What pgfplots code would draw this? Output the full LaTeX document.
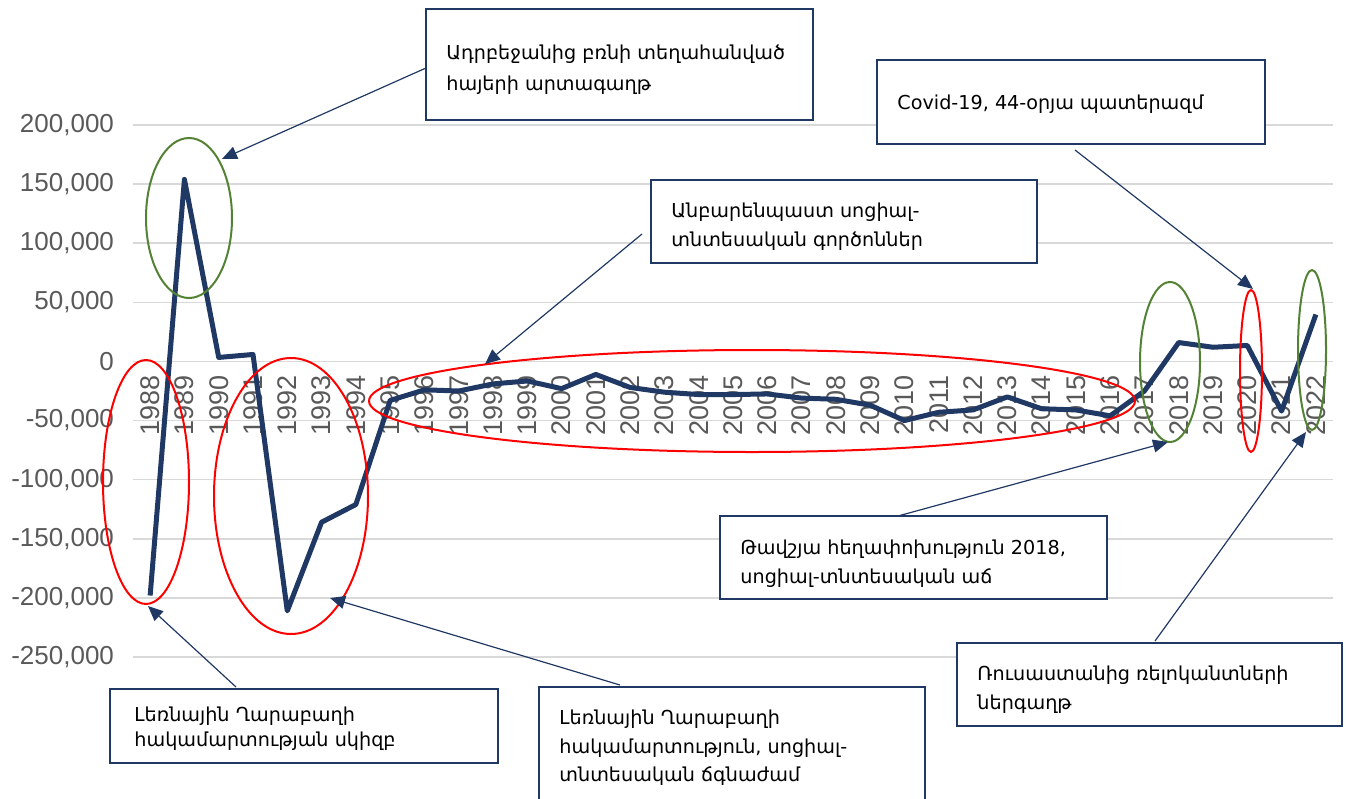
\documentclass[border=0pt]{standalone}
\usepackage{fontspec}
\setmainfont{Liberation Sans}
\newfontfamily\arm{DejaVu Sans}
\usepackage{pgfplots}
\pgfplotsset{compat=1.18}
\usetikzlibrary{arrows.meta}

\definecolor{navy}{HTML}{203864}
\definecolor{tickgray}{HTML}{595959}
\definecolor{gridgray}{HTML}{D9D9D9}
\definecolor{ellgreen}{HTML}{548235}
\definecolor{ellred}{HTML}{FF0000}

\begin{document}
\begin{tikzpicture}
\useasboundingbox (0,0) rectangle (674.5pt,-399pt);
\begin{axis}[
  at={(66.5pt,-328.5pt)}, anchor=south west,
  scale only axis, width=600pt, height=266pt,
  xmin=-0.5, xmax=34.5, ymin=-250000, ymax=200000,
  axis x line=middle, axis y line=left,
  axis line style={draw=none},
  ytick={-250000,-200000,...,200000},
  xtick={0,...,34},
  xticklabels={1988,1989,1990,1991,1992,1993,1994,1995,1996,1997,1998,1999,2000,2001,2002,2003,2004,2005,2006,2007,2008,2009,2010,2011,2012,2013,2014,2015,2016,2017,2018,2019,2020,2021,2022},
  ymajorgrids, grid style={gridgray, line width=0.75pt},
  major tick length=0pt,
  tick label style={color=tickgray, font=\fontsize{13}{15}\selectfont},
  xticklabel style={yshift=-7pt, rotate=90, anchor=east, inner sep=0pt, font=\fontsize{13.5}{15}\selectfont},
  yticklabel style={/pgf/number format/fixed, /pgf/number format/1000 sep={,}, /pgf/number format/assume math mode=true, anchor=east, xshift=-6pt},
  scaled y ticks=false,
  clip=false,
]
\addplot[navy, line width=2.5pt, line join=round] coordinates {
(0,-198000) (1,154000) (2,3400) (3,5900) (4,-211000) (5,-136000) (6,-121000)
(7,-33000) (8,-24000) (9,-25000) (10,-19000) (11,-16500) (12,-23000) (13,-11000)
(14,-22000) (15,-26000) (16,-28000) (17,-28000) (18,-27500) (19,-31000) (20,-32000)
(21,-37000) (22,-50000) (23,-43000) (24,-41000) (25,-30000) (26,-40000) (27,-41000)
(28,-46000) (29,-25000) (30,16000) (31,12000) (32,13500) (33,-42000) (34,39700)
};
\end{axis}
\begin{scope}[x=0.5pt,y=-0.5pt]
  % ellipses
  \draw[ellgreen, line width=1pt] (189,218) ellipse [x radius=43, y radius=80];
  \draw[ellred, line width=1pt] (146,482) ellipse [x radius=43, y radius=122];
  \draw[ellred, line width=1pt] (291,496) ellipse [x radius=77, y radius=138];
  \draw[ellred, line width=1pt] (752,401) ellipse [x radius=383, y radius=51];
  \draw[ellgreen, line width=1pt] (1170,362) ellipse [x radius=30, y radius=80];
  \draw[ellred, line width=1pt] (1251,371) ellipse [x radius=11, y radius=81];
  \draw[ellgreen, line width=1pt] (1312,350) ellipse [x radius=14, y radius=80];
  % arrows
  \tikzset{arr/.style={navy, line width=0.6pt, -{Triangle[length=7.5pt,width=6.5pt]}}}
  \draw[arr] (426,68) -- (222,159);
  \draw[arr] (1075,150) -- (1253,289);
  \draw[arr] (642,234) -- (485,364);
  \draw[arr] (1155,641) -- (1306,432);
  \draw[arr] (898,516) -- (1168,442);
  \draw[arr] (236,687) -- (148,606);
  \draw[arr] (620,685) -- (330,598);
  % boxes
  \tikzset{bx/.style={draw=navy, line width=1pt, fill=white}}
  \tikzset{tx/.style={anchor=mid west, inner sep=0pt, font=\arm\fontsize{9.6}{12}\selectfont}}
  \draw[bx] (426,9) rectangle (813,120);
  \node[tx] at (446,54) {Ադրբեջանից բռնի տեղահանված};
  \node[tx] at (446,85) {հայերի արտագաղթ};
  \draw[bx] (877,60) rectangle (1265,144);
  \node[tx] at (897,104) {Covid-19, 44-օրյա պատերազմ};
  \draw[bx] (651,180) rectangle (1037,263);
  \node[tx] at (671,212) {Անբարենպաստ սոցիալ-};
  \node[tx] at (671,241) {տնտեսական գործոններ};
  \draw[bx] (720,516) rectangle (1107,599);
  \node[tx] at (740,549) {Թավշյա հեղափոխություն 2018,};
  \node[tx] at (740,578) {սոցիալ-տնտեսական աճ};
  \draw[bx] (957,643) rectangle (1342,726);
  \node[tx] at (977,675) {Ռուսաստանից ռելոկանտների};
  \node[tx] at (977,704) {ներգաղթ};
  \draw[bx] (110,689) rectangle (498,763);
  \node[tx] at (134,716) {Լեռնային Ղարաբաղի};
  \node[tx] at (134,741) {հակամարտության սկիզբ};
  \draw[bx] (539,687) rectangle (925,800);
  \node[tx] at (559,719) {Լեռնային Ղարաբաղի};
  \node[tx] at (559,748) {հակամարտություն, սոցիալ-};
  \node[tx] at (559,776) {տնտեսական ճգնաժամ};
\end{scope}
\end{tikzpicture}
\end{document}
